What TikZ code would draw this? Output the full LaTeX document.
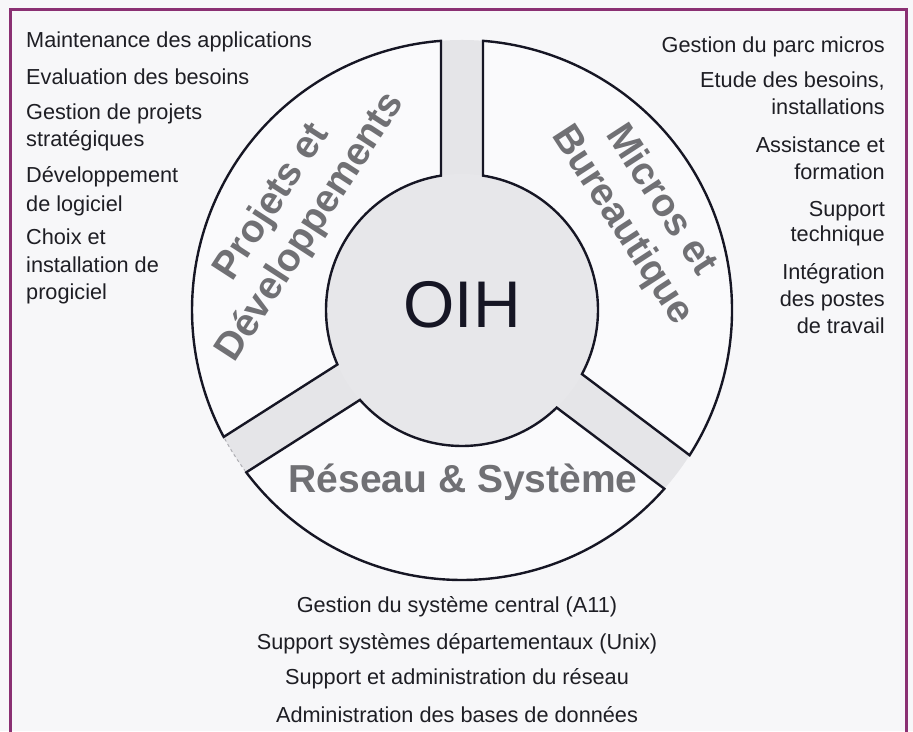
\documentclass[tikz,border=0pt]{standalone}
\usepackage{fontspec}
\setmainfont{Liberation Sans}

\definecolor{bg}{RGB}{247,247,249}
\definecolor{channel}{RGB}{229,229,232}
\definecolor{hub}{RGB}{231,231,234}
\definecolor{segfill}{RGB}{250,250,252}
\definecolor{ink}{RGB}{22,22,36}
\definecolor{txt}{RGB}{30,30,36}
\definecolor{lbl}{RGB}{112,112,116}
\definecolor{framecol}{RGB}{138,48,115}

\tikzset{
  seg/.style={fill=segfill, draw=ink, line width=2.4pt, line join=miter},
  item/.style={inner sep=0pt, text=txt, font=\fontsize{21.7}{27}\selectfont},
  sector/.style={inner sep=0pt, text=lbl, font=\fontsize{39}{46}\selectfont\bfseries, align=center},
  hubtext/.style={inner sep=0pt, text=ink, font=\fontsize{66}{66}\selectfont},
  border/.style={draw=framecol, line width=3pt, line join=miter},
}

% outer / inner radii and the angular offsets produced by the 21pt half-width channels
\def\Rout{270}
\def\Rin{136}
\def\aout{4.46}
\def\ain{8.88}

\begin{document}
\begin{tikzpicture}[x=1pt, y=1pt]
  \useasboundingbox (0,0) rectangle (913,731);
  \clip (0,0) rectangle (913,731);
  \fill[bg] (0,0) rectangle (913,731);

  % wheel: grey hub and channels, three white sectors on top
  \begin{scope}[shift={(462,421)}]
    \fill[channel] (0,0) circle[radius=\Rout];
    \fill[hub] (0,0) circle[radius=\Rin];
    % sector between channel directions \pa and \pb (degrees)
    \foreach \pa/\pb in {-37/90, 90/212.5, 212.5/323}{
      \draw[seg]
        ({\pa+\aout}:\Rout) arc[start angle={\pa+\aout}, end angle={\pb-\aout}, radius=\Rout]
        -- ({\pb-\ain}:\Rin) arc[start angle={\pb-\ain}, end angle={\pa+\ain}, radius=\Rin]
        -- cycle;
    }
    % faint trace of the rim across the lower-left channel
    \draw[ink!35, line width=1pt, dash pattern=on 3pt off 3pt]
      (208.5:\Rout) arc[start angle=208.5, end angle=216.5, radius=\Rout];
  \end{scope}

  % frame
  \draw[border] (10,-10) -- (10,721) -- (906,721) -- (906,-10);

  % hub and sector titles
  \node[hubtext] (oih) at (462,426) {OIH};
  \node[sector, rotate=57] (projets) at (292,516) {Projets et\\Développements};
  \node[sector, rotate=-57] (micros) at (641,518) {Micros et\\Bureautique};
  \node[sector, anchor=base] (reseau) at (463,238) {Réseau \& Système};

  % left column
  \foreach \yy/\txt [count=\i] in {
      683/Maintenance des applications,
      646/Evaluation des besoins,
      611/Gestion de projets,
      584/stratégiques,
      548/Développement,
      519/de logiciel,
      486/Choix et,
      458/installation de,
      431/progiciel}
    \node[item, anchor=base west] (pd\i) at (26,\yy) {\txt};

  % right column
  \foreach \yy/\txt [count=\i] in {
      678/Gestion du parc micros,
      643/{Etude des besoins,},
      616/installations,
      578/Assistance et,
      551/formation,
      514/Support,
      489/technique,
      451/Intégration,
      424/des postes,
      397/de travail}
    \node[item, anchor=base east] (mb\i) at (885,\yy) {\txt};

  % bottom column
  \foreach \yy/\txt [count=\i] in {
      118/Gestion du système central (A11),
      81/Support systèmes départementaux (Unix),
      46/Support et administration du réseau,
      9/Administration des bases de données}
    \node[item, anchor=base] (rs\i) at (457,\yy) {\txt};
\end{tikzpicture}
\end{document}
